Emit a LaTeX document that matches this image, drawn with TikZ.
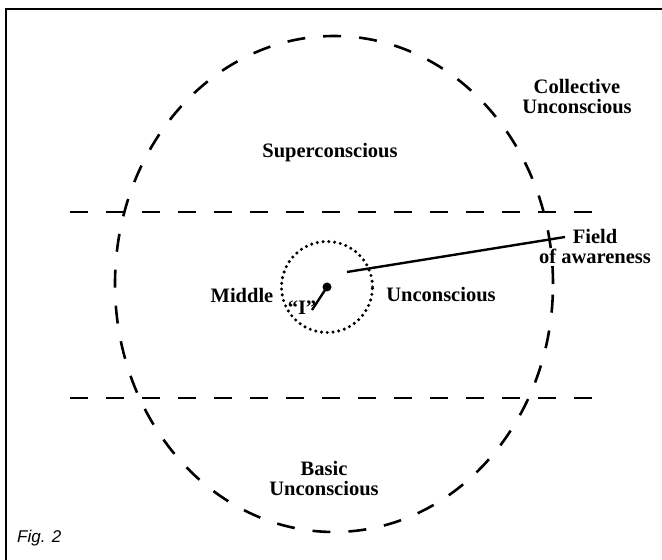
\documentclass[tikz,border=0pt]{standalone}
\usepackage{fontspec}
\setmainfont{Liberation Serif}
\setsansfont{Liberation Sans}
\begin{document}
\begin{tikzpicture}[x=1pt,y=1pt,
  lbl/.style={font=\fontsize{20.5}{20}\selectfont\bfseries, align=center, inner sep=0pt},
  dsh/.style={line width=2.6pt, dash pattern=on 18pt off 18pt},
  dts/.style={line width=3.4pt, dash pattern=on 0pt off 5.8pt, line cap=round},
  solidline/.style={line width=2.4pt}]
\useasboundingbox (0,0) rectangle (662,560);
% frame
\draw[line width=1.4pt] (6,0) -- (6,551) -- (662,551);
% ellipse
\draw[dsh] (334,276) ellipse [x radius=219, y radius=248];
% horizontal dashed lines
\coordinate (h1a) at (70,348); \coordinate (h1b) at (596,348);
\coordinate (h2a) at (70,162); \coordinate (h2b) at (596,162);
\draw[dsh] (h1a) -- (h1b);
\draw[dsh] (h2a) -- (h2b);
% dotted circle
\node[circle, draw, dts, minimum size=91pt, inner sep=0pt] (field) at (327,273) {};
% I dot
\node[circle, fill, inner sep=0pt, minimum size=9pt] (idot) at (327,273) {};
\node[lbl] (I) at (302,252) {``I''};
\coordinate (iend) at (312,250);
\draw[solidline] (idot.center) -- (iend);
% labels
\node[lbl] (super) at (330,407) {Superconscious};
\node[lbl] (coll) at (577,463) {Collective\\Unconscious};
\node[lbl] (middle) at (242,265) {Middle};
\node[lbl] (uncon) at (441,265) {Unconscious};
\node[lbl] (basic) at (324,81) {Basic\\Unconscious};
\node[lbl] (fa) at (595,314) {Field\\of awareness};
\coordinate (fstart) at (347,288);
\coordinate (fend) at (565,323);
\draw[solidline] (fstart) -- (fend);
\node[font=\sffamily\itshape\fontsize{17}{19}\selectfont, anchor=west, inner sep=0pt] (fig) at (17,22) {Fig. 2};
\end{tikzpicture}
\end{document}
